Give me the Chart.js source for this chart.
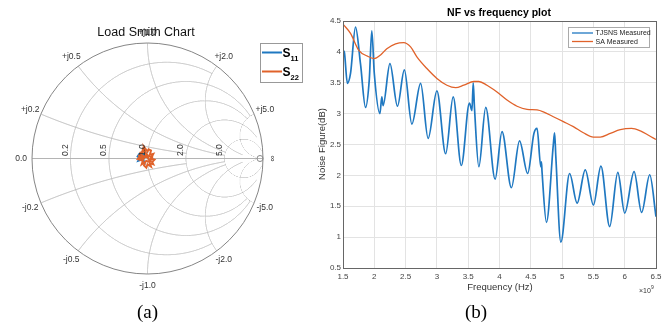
<!DOCTYPE html>
<html><head><meta charset="utf-8">
<script src="https://cdn.jsdelivr.net/npm/chart.js@4/dist/chart.umd.min.js"></script>
<style>
html,body{margin:0;padding:0;background:#fff;}
#wrap{position:relative;width:669px;height:326px;overflow:hidden;background:#fff;}
#c1{position:absolute;left:0;top:0;width:330px;height:326px;}
#c2{position:absolute;left:300px;top:0;width:369px;height:326px;}
.cap{position:absolute;font-family:"Liberation Serif","Times New Roman",serif;font-size:19px;line-height:22px;color:#000;top:301px;}
</style></head>
<body><div id="wrap">
<canvas id="c1" width="330" height="326"></canvas>
<canvas id="c2" width="369" height="326"></canvas>
<div class="cap" style="left:137px">(a)</div>
<div class="cap" style="left:465px">(b)</div>
</div>
<script>
// ---------- Panel (a): Smith chart ----------
const smithGridValues = [0.2, 0.5, 1, 2, 5];
const smithGridLimits = [2, 5, 5, 10, 30];
const resistanceLabels = ["0.2", "0.5", "1.0", "2.0", "5.0"];
const reactanceLabels = ["0.2", "0.5", "1.0", "2.0", "5.0"];
// reflection coefficient traces (Re, Im)
const s11Re = [-0.09,-0.07,-0.05,-0.06,-0.04,-0.07,-0.08,-0.05,-0.03,-0.04,-0.02,-0.05,-0.08];
const s11Im = [ 0.01, 0.04, 0.05, 0.02, 0.03, 0.00,-0.02,-0.01,-0.03, 0.01, 0.02, 0.04, 0.02];
const s22Re = [-0.08,-0.05,-0.04,-0.02,-0.03,0.00,0.01,0.03,0.02,0.05,0.03,0.06,0.04,0.05,0.02,0.03,0.00,-0.01,-0.03,-0.02,-0.05,-0.04,-0.07,-0.05,-0.08,-0.06,-0.03,0.00,0.02,-0.01,-0.04,-0.06,-0.03,0.01,0.04,0.02,-0.02];
const s22Im = [ 0.02, 0.04, 0.08, 0.05, 0.10, 0.06, 0.08, 0.07, 0.03, 0.04, 0.00,-0.01,-0.03,-0.05,-0.04,-0.07,-0.05,-0.08,-0.06,-0.03,-0.05,-0.02,-0.01, 0.01, 0.00, 0.03, 0.02, 0.01,-0.02, 0.03,-0.01, 0.05, 0.06, 0.02, 0.01,-0.03,-0.02];

function zOf(a, b) { const d = (1 - a) * (1 - a) + b * b; return { re: (1 - a * a - b * b) / d, im: 2 * b / d }; }
function arcClipped(ctx, P, cx, cy, R, keep) {
  const N = 8000; let pen = false;
  ctx.beginPath();
  for (let i = 0; i <= N; i++) {
    const t = 2 * Math.PI * i / N;
    const a = cx + R * Math.cos(t), b = cy + R * Math.sin(t);
    if (keep(a, b)) { const p = P(a, b); if (pen) ctx.lineTo(p[0], p[1]); else { ctx.moveTo(p[0], p[1]); pen = true; } }
    else pen = false;
  }
  ctx.stroke();
}
const smithPlugin = {
  id: 'smith',
  beforeDatasetsDraw(chart) {
    const ctx = chart.ctx, xs = chart.scales.x, ys = chart.scales.y;
    const P = (a, b) => [xs.getPixelForValue(a), ys.getPixelForValue(b)];
    ctx.save();
    ctx.lineWidth = 1; ctx.strokeStyle = '#b4b4b4';
    smithGridValues.forEach((r, i) => {
      const lim = smithGridLimits[i];
      const c = r / (1 + r), R = 1 / (1 + r);
      arcClipped(ctx, P, c, 0, R, (a, b) => {
        const d = (1 - a) * (1 - a) + b * b; if (d < 1e-9) return false;
        return Math.abs(zOf(a, b).im) <= lim + 1e-6;
      });
    });
    smithGridValues.forEach((x, i) => {
      const lim = smithGridLimits[i];
      [x, -x].forEach(xx => {
        arcClipped(ctx, P, 1, 1 / xx, 1 / Math.abs(xx), (a, b) => {
          if (a * a + b * b > 1.00005) return false;
          const d = (1 - a) * (1 - a) + b * b; if (d < 1e-9) return false;
          return zOf(a, b).re <= lim + 1e-6;
        });
      });
    });
    // real axis
    ctx.beginPath(); let p = P(-1, 0); ctx.moveTo(p[0], p[1]); p = P(1, 0); ctx.lineTo(p[0], p[1]); ctx.stroke();
    // outer circle
    ctx.strokeStyle = '#858585';
    const cc = P(0, 0), rr = xs.getPixelForValue(1) - cc[0];
    ctx.beginPath(); ctx.arc(cc[0], cc[1], rr, 0, 2 * Math.PI); ctx.stroke();
    // open-circuit marker
    ctx.strokeStyle = '#888';
    ctx.beginPath(); ctx.arc(cc[0] + rr - 3, cc[1], 3, 0, 2 * Math.PI); ctx.stroke();
    ctx.restore();
  },
  afterDraw(chart) {
    const ctx = chart.ctx, xs = chart.scales.x, ys = chart.scales.y;
    const P = (a, b) => [xs.getPixelForValue(a), ys.getPixelForValue(b)];
    const cc = P(0, 0);
    ctx.save();
    ctx.fillStyle = '#333';
    ctx.font = '8.5px "Liberation Sans", Arial, sans-serif';
    // resistance labels (rotated)
    smithGridValues.forEach((r, i) => {
      const p = P((r - 1) / (r + 1), 0);
      ctx.save(); ctx.translate(p[0] - 1, cc[1] - 2.5); ctx.rotate(-Math.PI / 2);
      ctx.textAlign = 'left'; ctx.textBaseline = 'bottom';
      ctx.fillText(resistanceLabels[i], 0, 0); ctx.restore();
    });
    // infinity
    { const p = P(1, 0); ctx.save(); ctx.translate(p[0] + 10, cc[1]); ctx.rotate(-Math.PI / 2);
      ctx.textAlign = 'center'; ctx.textBaseline = 'middle'; ctx.fillText('\u221E', 0, 0); ctx.restore(); }
    // 0.0
    { const p = P(-1, 0); ctx.textAlign = 'right'; ctx.textBaseline = 'middle'; ctx.fillText('0.0', p[0] - 5, p[1]); }
    // reactance labels
    ctx.textAlign = 'center'; ctx.textBaseline = 'middle';
    smithGridValues.forEach((x, i) => {
      [1, -1].forEach(sg => {
        const ang = Math.PI - 2 * Math.atan(x * sg);
        const k = 1.1;
        const p = P(k * Math.cos(ang), k * Math.sin(ang));
        ctx.fillText((sg > 0 ? '+j' : '-j') + reactanceLabels[i], p[0], p[1] + (x === 1 && sg > 0 ? 1.5 : 0));
      });
    });
    // title
    ctx.fillStyle = '#111';
    ctx.font = '12.5px "Liberation Sans", Arial, sans-serif';
    ctx.fillText('Load Smith Chart', 146, 33);
    // legend
    const L = { x: 260, y: 43, w: 42, h: 39 };
    ctx.fillStyle = '#fff'; ctx.fillRect(L.x, L.y, L.w, L.h);
    ctx.strokeStyle = '#999'; ctx.lineWidth = 1; ctx.strokeRect(L.x + 0.5, L.y + 0.5, L.w, L.h);
    const items = [{ c: chart.data.datasets[0].borderColor, sub: '11', y: 52.5 }, { c: chart.data.datasets[1].borderColor, sub: '22', y: 71.5 }];
    items.forEach(it => {
      ctx.strokeStyle = it.c; ctx.lineWidth = 2;
      ctx.beginPath(); ctx.moveTo(262, it.y); ctx.lineTo(282, it.y); ctx.stroke();
      ctx.fillStyle = '#000'; ctx.textAlign = 'left'; ctx.textBaseline = 'alphabetic';
      ctx.font = 'bold 12px "Liberation Sans", Arial, sans-serif';
      ctx.fillText('S', 282.5, it.y + 4);
      ctx.font = 'bold 7.5px "Liberation Sans", Arial, sans-serif';
      ctx.fillText(it.sub, 290.5, it.y + 8);
    });
    ctx.restore();
  }
};
new Chart(document.getElementById('c1'), {
  type: 'scatter',
  data: {
    datasets: [
      { label: 'S11', data: s11Re.map((v, i) => ({ x: v, y: s11Im[i] })), showLine: true, borderColor: '#1f78c1', borderWidth: 2, pointRadius: 0, order: 2 },
      { label: 'S22', data: s22Re.map((v, i) => ({ x: v, y: s22Im[i] })), showLine: true, borderColor: '#e0622a', borderWidth: 2, pointRadius: 0, order: 1 }
    ]
  },
  options: {
    responsive: false, animation: false,
    layout: { padding: { left: 32, right: 67, top: 43, bottom: 52 } },
    scales: { x: { type: 'linear', min: -1, max: 1, display: false }, y: { type: 'linear', min: -1, max: 1, display: false } },
    plugins: { legend: { display: false }, tooltip: { enabled: false }, title: { display: false } }
  },
  plugins: [smithPlugin]
});

// ---------- Panel (b): NF vs frequency ----------
const tjsnsFreq = [1.50,1.52,1.57,1.62,1.70,1.78,1.86,1.92,1.96,2.00,2.09,2.12,2.14,2.25,2.37,2.48,2.60,2.74,2.86,3.00,3.14,3.26,3.39,3.52,3.56,3.58,3.60,3.67,3.78,3.93,4.04,4.19,4.32,4.45,4.55,4.60,4.66,4.67,4.68,4.75,4.86,4.88,4.90,4.98,5.12,5.24,5.37,5.50,5.62,5.76,5.89,6.00,6.15,6.27,6.40,6.50];
const tjsnsNF   = [4.02,4.00,3.49,3.65,4.40,3.80,3.10,3.55,4.34,3.65,3.00,3.27,3.13,3.81,3.12,3.71,2.83,3.49,2.60,3.37,2.35,3.27,2.16,3.17,3.05,3.50,3.10,2.14,3.10,1.94,2.71,1.80,2.56,2.03,2.68,2.76,2.14,2.22,2.05,1.24,2.50,2.69,2.30,0.92,2.03,1.55,2.09,1.52,2.15,1.17,2.05,1.39,2.06,1.40,2.01,1.33];
const saFreq = [1.50,1.62,1.75,1.89,2.00,2.10,2.20,2.34,2.47,2.58,2.68,2.84,3.00,3.16,3.30,3.43,3.59,3.67,3.80,3.96,4.12,4.28,4.44,4.60,4.70,4.86,5.02,5.18,5.34,5.50,5.61,5.77,5.93,6.11,6.25,6.38,6.50];
const saNF   = [4.45,4.30,4.03,3.93,3.89,3.95,4.05,4.13,4.15,4.08,3.92,3.73,3.57,3.46,3.42,3.46,3.52,3.52,3.46,3.35,3.22,3.12,3.07,3.06,3.03,2.95,2.87,2.79,2.69,2.62,2.62,2.68,2.74,2.76,2.72,2.65,2.58];
const freqTicks = [1.5,2,2.5,3,3.5,4,4.5,5,5.5,6,6.5];
const nfTicks = [0.5,1,1.5,2,2.5,3,3.5,4,4.5];

const nfPlugin = {
  id: 'nf',
  afterDraw(chart) {
    const ctx = chart.ctx, a = chart.chartArea;
    ctx.save();
    ctx.strokeStyle = '#666'; ctx.lineWidth = 1;
    ctx.strokeRect(Math.round(a.left) + 0.5, Math.round(a.top) + 0.5, Math.round(a.right - a.left), Math.round(a.bottom - a.top));
    ctx.fillStyle = '#000'; ctx.textAlign = 'center'; ctx.textBaseline = 'middle';
    ctx.font = 'bold 10.5px "Liberation Sans", Arial, sans-serif';
    ctx.fillText('NF vs frequency plot', 199, 13);
    ctx.fillStyle = '#333';
    ctx.font = '9.5px "Liberation Sans", Arial, sans-serif';
    ctx.fillText('Frequency (Hz)', 200, 287);
    ctx.save(); ctx.translate(22, 144); ctx.rotate(-Math.PI / 2); ctx.fillText('Noise Figure(dB)', 0, 0); ctx.restore();
    ctx.textAlign = 'left';
    ctx.font = '7px "Liberation Sans", Arial, sans-serif';
    ctx.fillText('\u00D710', 339, 291);
    ctx.font = '5px "Liberation Sans", Arial, sans-serif';
    ctx.fillText('9', 351, 288);
    // legend
    const L = { x: 268, y: 27, w: 81, h: 20 };
    ctx.fillStyle = '#fff'; ctx.fillRect(L.x, L.y, L.w, L.h);
    ctx.strokeStyle = '#aaa'; ctx.strokeRect(L.x + 0.5, L.y + 0.5, L.w, L.h);
    ctx.font = '7px "Liberation Sans", Arial, sans-serif';
    chart.data.datasets.forEach((ds, i) => {
      const y = 33 + i * 8.5;
      ctx.strokeStyle = ds.borderColor; ctx.lineWidth = 1.3;
      ctx.beginPath(); ctx.moveTo(272, y); ctx.lineTo(293, y); ctx.stroke();
      ctx.fillStyle = '#222'; ctx.fillText(ds.label, 295.5, y + 0.5);
    });
    ctx.restore();
  }
};
new Chart(document.getElementById('c2'), {
  type: 'line',
  data: {
    datasets: [
      { label: 'TJSNS Measured', data: tjsnsFreq.map((v, i) => ({ x: v, y: tjsnsNF[i] })), borderColor: '#1f78c1', borderWidth: 1.7, pointRadius: 0, cubicInterpolationMode: 'monotone', order: 2 },
      { label: 'SA Measured', data: saFreq.map((v, i) => ({ x: v, y: saNF[i] })), borderColor: '#e0622a', borderWidth: 1.3, pointRadius: 0, cubicInterpolationMode: 'monotone', order: 1 }
    ]
  },
  options: {
    responsive: false, animation: false,
    layout: { padding: { left: 0, right: 13, top: 21, bottom: 0 } },
    scales: {
      x: {
        type: 'linear', min: 1.5, max: 6.5,
        afterBuildTicks: s => { s.ticks = freqTicks.map(v => ({ value: v })); },
        afterFit: s => { s.height = 58; },
        ticks: { font: { size: 8, family: '"Liberation Sans", Arial, sans-serif' }, color: '#444', padding: 4, maxRotation: 0, autoSkip: false, callback: v => String(v) },
        grid: { color: '#e3e3e3', drawTicks: false },
        border: { display: false }
      },
      y: {
        type: 'linear', min: 0.5, max: 4.5,
        afterBuildTicks: s => { s.ticks = nfTicks.map(v => ({ value: v })); },
        afterFit: s => { s.width = 43; },
        ticks: { font: { size: 8, family: '"Liberation Sans", Arial, sans-serif' }, color: '#444', padding: 2, autoSkip: false, callback: v => String(v) },
        grid: { color: '#e3e3e3', drawTicks: false },
        border: { display: false }
      }
    },
    plugins: { legend: { display: false }, tooltip: { enabled: false }, title: { display: false } }
  },
  plugins: [nfPlugin]
});
</script>
</body></html>
